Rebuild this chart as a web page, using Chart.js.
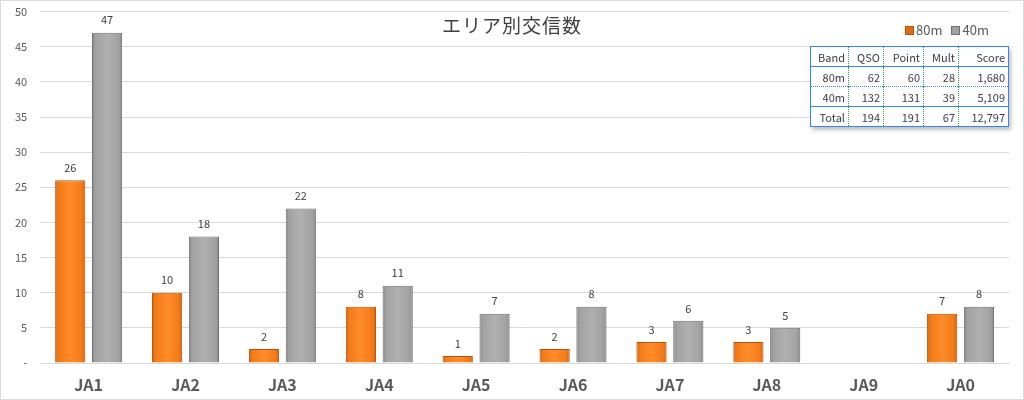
<!DOCTYPE html>
<html>
<head>
<meta charset="utf-8">
<script src="https://cdn.jsdelivr.net/npm/chart.js@4/dist/chart.umd.min.js"></script>
<style>
  html, body { margin: 0; padding: 0; background: #fff; }
  #wrap { position: relative; width: 1024px; height: 400px; box-sizing: border-box; border: 1px solid #d9d9d9; overflow: hidden; }
  #chart { display: block; position: absolute; left: 0; top: -9px; }
  #title {
    position: absolute; left: 0; width: 1022px; top: 10px; text-align: center;
    font: 19px 'Noto Sans CJK JP', sans-serif; color: #404040; letter-spacing: 1px;
  }
  #legend {
    position: absolute; left: 904px; top: 19px;
    font: 13px 'Noto Sans CJK JP', sans-serif; color: #595959;
  }
  #legend span.box { display: inline-block; width: 7px; height: 7px; margin-right: 2px; vertical-align: 0px; }
  #legend span.item { margin-right: 9px; }
  #score {
    position: absolute; left: 809px; top: 45px; border-collapse: collapse;
    font: 11px 'Noto Sans CJK JP', sans-serif; color: #3a3a4a; background: #fff;
    border: 1.5px solid #3385f0; box-shadow: 2px 3px 4px rgba(0,0,0,0.25);
  }
  #score td { text-align: right; padding: 0 3px; height: 19px; border-left: 1px dotted #3a9a5a; }
  #score td:first-child { border-left: none; }
  #score tr.solid td { border-top: 1.5px solid #3385f0; }
  #score tr.dot td { border-top: 1.5px dotted #3385f0; }
</style>
</head>
<body>
<div id="wrap">
  <canvas id="chart" width="1022" height="407"></canvas>
  <div id="title">エリア別交信数</div>
  <div id="legend"></div>
  <table id="score"></table>
</div>
<script>
const areas = ['JA1', 'JA2', 'JA3', 'JA4', 'JA5', 'JA6', 'JA7', 'JA8', 'JA9', 'JA0'];
const qso80 = [26, 10, 2, 8, 1, 2, 3, 3, null, 7];
const qso40 = [47, 18, 22, 11, 7, 8, 6, 5, null, 8];
const yTicks = [0, 5, 10, 15, 20, 25, 30, 35, 40, 45, 50];

const tableHead = ['Band', 'QSO', 'Point', 'Mult', 'Score'];
const tableBands = ['80m', '40m', 'Total'];
const tableQso = [62, 132, 194];
const tablePoint = [60, 131, 191];
const tableMult = [28, 39, 67];
const tableScore = ['1,680', '5,109', '12,797'];

const CAT_PCT = 0.76, BAR_PCT = 0.82;

function barGradient(ctx, dsIndex, edge, base, light) {
  const chart = ctx.chart;
  const xs = chart.scales.x;
  if (!chart.chartArea || !xs || ctx.dataIndex === undefined) return base;
  const cat = xs.width / areas.length;
  const slot = cat * CAT_PCT / 2;
  const w = slot * BAR_PCT;
  const cx = xs.getPixelForValue(ctx.dataIndex) + (dsIndex === 0 ? -slot / 2 : slot / 2);
  const g = chart.ctx.createLinearGradient(cx - w / 2, 0, cx + w / 2, 0);
  g.addColorStop(0, edge);
  g.addColorStop(0.12, base);
  g.addColorStop(0.5, light);
  g.addColorStop(0.88, base);
  g.addColorStop(1, edge);
  return g;
}

const valueLabels = {
  id: 'valueLabels',
  afterDatasetsDraw(chart) {
    const c = chart.ctx;
    c.save();
    c.font = "11px 'Noto Sans CJK JP', sans-serif";
    c.fillStyle = '#404040';
    c.textAlign = 'center';
    c.textBaseline = 'bottom';
    chart.data.datasets.forEach((ds, i) => {
      chart.getDatasetMeta(i).data.forEach((bar, j) => {
        const v = ds.data[j];
        if (v === null || v === undefined) return;
        c.fillText(String(v), bar.x, bar.y - 7);
      });
    });
    c.restore();
  }
};

new Chart(document.getElementById('chart'), {
  type: 'bar',
  data: {
    labels: areas,
    datasets: [
      {
        label: '80m', data: qso80,
        backgroundColor: ctx => barGradient(ctx, 0, '#d0640f', '#f47b17', '#ff8c2a'),
        borderColor: '#b8530b', borderWidth: 1,
        categoryPercentage: CAT_PCT, barPercentage: BAR_PCT
      },
      {
        label: '40m', data: qso40,
        backgroundColor: ctx => barGradient(ctx, 1, '#8a8a8a', '#a2a2a2', '#b0b0b0'),
        borderColor: '#6e6e6e', borderWidth: 1,
        categoryPercentage: CAT_PCT, barPercentage: BAR_PCT
      }
    ]
  },
  options: {
    responsive: false,
    animation: false,
    layout: { padding: { left: 1, right: 14, top: 1, bottom: 0 } },
    plugins: {
      legend: { display: false },
      title: { display: false },
      tooltip: { enabled: false }
    },
    scales: {
      x: {
        grid: { display: false },
        border: { color: '#d9d9d9' },
        ticks: {
          color: '#595959', padding: 6,
          font: { family: "'Noto Sans CJK JP', sans-serif", size: 16, weight: 'bold', lineHeight: 1 }
        }
      },
      y: {
        min: 0, max: 50,
        afterBuildTicks: axis => { axis.ticks = yTicks.map(v => ({ value: v })); },
        grid: { color: '#d9d9d9', drawTicks: false },
        border: { display: false },
        ticks: {
          color: '#595959', padding: 13,
          font: { family: "'Noto Sans CJK JP', sans-serif", size: 11 },
          callback: v => (v === 0 ? '-' : v)
        }
      }
    }
  },
  plugins: [valueLabels]
});

// legend
document.getElementById('legend').innerHTML =
  '<span class="item"><span class="box" style="background:#e06c12;border:1px solid #b8530b"></span>80m</span>' +
  '<span class="item"><span class="box" style="background:#a2a2a2;border:1px solid #6e6e6e"></span>40m</span>';

// score table
const rows = [tableHead];
tableBands.forEach((b, i) => rows.push([b, tableQso[i], tablePoint[i], tableMult[i], tableScore[i]]));
const widths = [38, 35, 40, 35, 50];
document.getElementById('score').innerHTML = rows.map((r, i) => {
  const cls = i === 2 ? 'dot' : (i === 0 ? '' : 'solid');
  return '<tr class="' + cls + '">' + r.map((v, j) =>
    '<td style="width:' + (widths[j] - 7) + 'px">' + v + '</td>').join('') + '</tr>';
}).join('');
</script>
</body>
</html>
